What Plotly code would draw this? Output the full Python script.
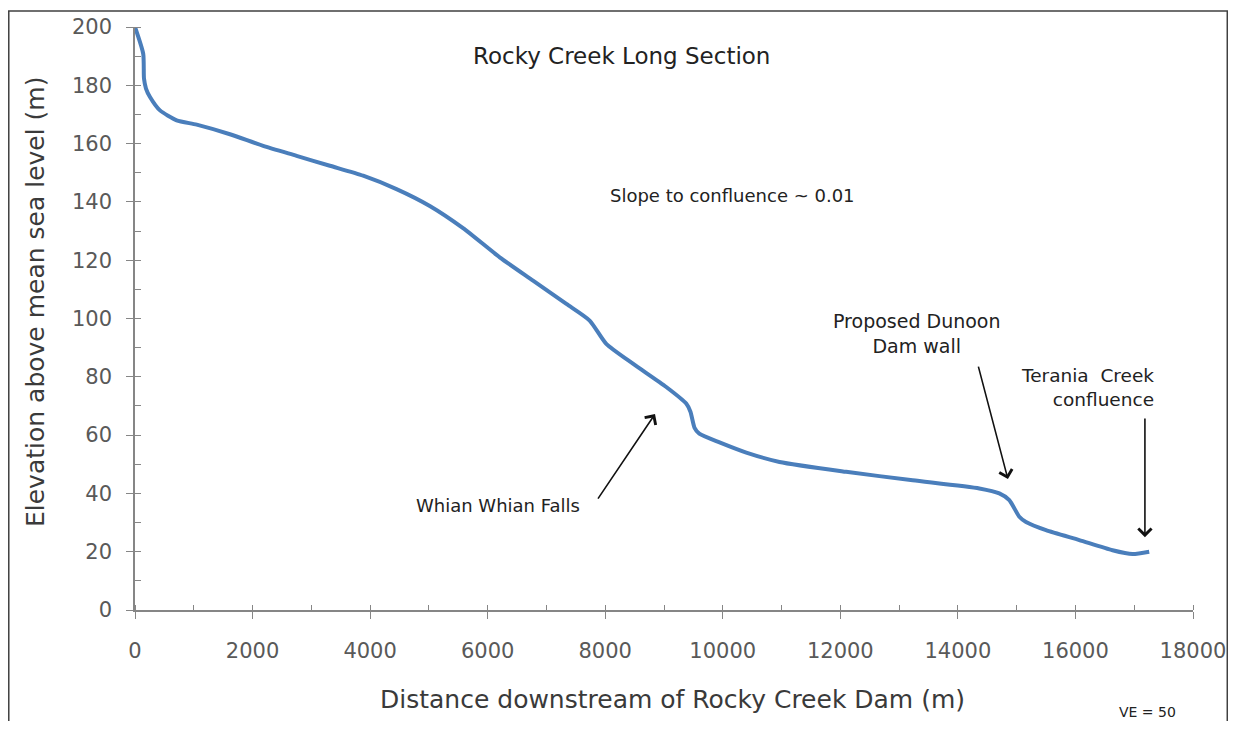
import plotly.graph_objects as go

# Long-section profile (distance m, elevation m)
distance = [0, 140, 153, 187, 255, 425, 709, 1049, 1615, 2181, 2749, 3315, 3881,
            4449, 5015, 5581, 6205, 6772, 7339, 7735, 8018, 8471, 9038, 9378,
            9450, 9520, 9600, 9945, 10400, 10965, 12098, 13231, 14365, 14705,
            14875, 15045, 15159, 15499, 16065, 16631, 16971, 17255]
elevation = [200, 190.8, 182.3, 178.9, 176, 171.4, 168, 166.5, 163.2, 159.2,
             155.8, 152.4, 149, 144.4, 138.6, 131, 121, 113, 105, 99.3, 91.3,
             84.5, 76.5, 70.8, 68, 62.5, 60.5, 57.5, 54, 50.8, 47.4, 44.5, 41.7,
             40, 37.7, 32, 30.2, 27.4, 24, 20.5, 19.2, 20]

x_ticks = [0, 2000, 4000, 6000, 8000, 10000, 12000, 14000, 16000, 18000]
y_ticks = [0, 20, 40, 60, 80, 100, 120, 140, 160, 180, 200]

FONT = "DejaVu Sans"
AX = "#868686"

fig = go.Figure()
fig.add_trace(go.Scatter(x=distance, y=elevation, mode="lines",
                         line=dict(color="#4A7EBB", width=4, shape="spline", smoothing=0.6),
                         hoverinfo="x+y", showlegend=False))

common = dict(showgrid=False, zeroline=False, showline=True, linecolor=AX, linewidth=1.5,
              ticks="outside", ticklen=7, tickcolor=AX, tickwidth=1.2, automargin=False,
              tickfont=dict(family=FONT, size=21, color="#595959"))
overlay = dict(ticks="inside", ticklen=7, tickcolor=AX, tickwidth=1.2, automargin=False,
               showticklabels=False, showline=False, showgrid=False, zeroline=False)

# page body has an 8px margin: figure is sized so the page is exactly filled
fig.update_layout(
    width=1220, height=713,
    margin=dict(l=127, r=35, t=19, b=111, autoexpand=False),
    paper_bgcolor="white", plot_bgcolor="white",
    xaxis=dict(range=[0, 18000], tickvals=x_ticks, ticktext=[str(v) for v in x_ticks],
               minor=dict(ticks="inside", dtick=1000, ticklen=5, tickcolor=AX),
               ticklabelstandoff=14, **common),
    yaxis=dict(range=[0, 200], tickvals=y_ticks, ticktext=[str(v) for v in y_ticks],
               minor=dict(ticks="inside", dtick=10, ticklen=6, tickcolor=AX),
               ticklabelstandoff=10, **common),
    xaxis2=dict(range=[0, 18000], overlaying="x", anchor="y", side="bottom",
                tickvals=x_ticks, **overlay),
    yaxis2=dict(range=[0, 200], overlaying="y", anchor="x", side="left",
                tickvals=y_ticks, **overlay),
)

# outer frame
fig.add_shape(type="rect", xref="paper", yref="paper",
              x0=-0.1193, x1=1.0324, y0=-0.35, y1=1.0274,
              line=dict(color="#404040", width=1.5), fillcolor="rgba(0,0,0,0)", layer="below")

ann = []
# axis titles
ann.append(dict(text="Distance downstream of Rocky Creek Dam (m)", xref="paper", yref="paper",
                x=(672 - 135) / 1058, y=(610 - 699) / 583, xanchor="center", yanchor="middle",
                showarrow=False, font=dict(family=FONT, size=25, color="#3a3a3a")))
ann.append(dict(text="Elevation above mean sea level (m)", xref="paper", yref="paper",
                x=(35 - 135) / 1058, y=(610 - 302) / 583, xanchor="center", yanchor="middle",
                textangle=-90, showarrow=False,
                font=dict(family=FONT, size=25, color="#3a3a3a")))
# chart texts
ann.append(dict(text="Rocky Creek Long Section", x=8270, y=189.9, showarrow=False,
                font=dict(family=FONT, size=23, color="#222")))
ann.append(dict(text="Slope to confluence ~ 0.01", x=10160, y=142.2, showarrow=False,
                font=dict(family=FONT, size=18, color="#222")))
ann.append(dict(text="Whian Whian Falls", x=6180, y=36, showarrow=False,
                font=dict(family=FONT, size=18, color="#222")))
ann.append(dict(text="Proposed Dunoon<br>Dam wall", x=13300, y=95, showarrow=False,
                align="center", font=dict(family=FONT, size=19, color="#222")))
ann.append(dict(text="Terania  Creek<br>confluence", x=17370, y=76.5, showarrow=False,
                xanchor="right", align="right", font=dict(family=FONT, size=18.5, color="#222")))
ann.append(dict(text="VE = 50", xref="paper", yref="paper", x=(1147 - 135) / 1058,
                y=(610 - 712) / 583, xanchor="center", yanchor="middle", showarrow=False,
                font=dict(family=FONT, size=14, color="#222")))
# arrows
for (tx, ty, sx, sy) in [(8847, 67.2, 7860, 37.7), (14851, 44.9, 14342, 84), (17182, 25, 17182, 66.2)]:
    ann.append(dict(text="", x=tx, y=ty, ax=sx, ay=sy, axref="x", ayref="y",
                    showarrow=True, arrowhead=4, arrowsize=1.6, arrowwidth=1.6,
                    arrowcolor="#111", standoff=0))
fig.update_layout(annotations=ann)

fig.write_html("out.html")
